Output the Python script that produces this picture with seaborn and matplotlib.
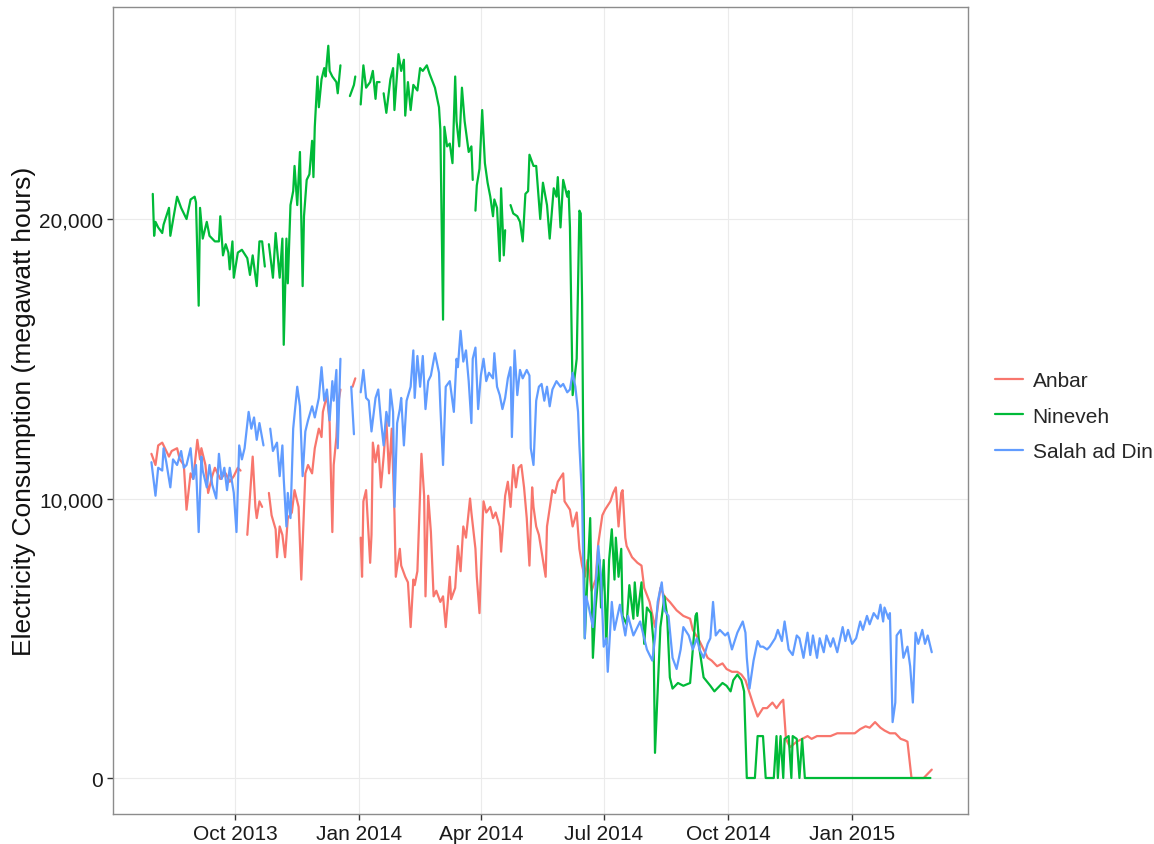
import numpy as np
import pandas as pd
import matplotlib
matplotlib.use("Agg")
import matplotlib.pyplot as plt
import matplotlib.dates as mdates
from matplotlib.ticker import FuncFormatter
import seaborn as sns

nan = np.nan

# daily electricity consumption, day offsets counted from START,
# values in thousand megawatt hours (nan = missing day, line breaks there)
START = "2013-07-30"
provinces = ["Anbar", "Nineveh", "Salah ad Din"]
colors = ["#F8766D", "#00BA38", "#619CFF"]

anbar_day = [
    1, 4, 6, 9, 11, 14, 16, 20, 22, 25,
    27, 30, 32, 35, 37, 38, 41, 43, 46, 48,
    52, 56, 59, 62, 65, 67, 69, 72, 74, 76,
    78, 79, 81, 83, 86, 88, 90, 93, 94, 96,
    98, 100, 102, 105, 107, 110, 112, 115, 117, 120,
    122, 125, 127, 128, 131, 133, 135, 136, 138, 139,
    141, 143, 150, 152, 154, 156, 157, 158, 160, 163,
    164, 165, 167, 169, 171, 173, 175, 177, 179, 181,
    182, 185, 186, 189, 191, 193, 195, 196, 198, 201,
    203, 204, 206, 208, 210, 212, 215, 217, 219, 222,
    223, 226, 228, 230, 232, 234, 237, 238, 241, 242,
    244, 246, 247, 249, 252, 254, 256, 259, 260, 263,
    265, 267, 269, 271, 273, 275, 277, 279, 281, 283,
    284, 286, 288, 290, 293, 294, 298, 300, 302, 306,
    307, 311, 313, 316, 318, 320, 322, 324, 327, 330,
    332, 335, 337, 341, 343, 345, 347, 349, 350, 352,
    353, 357, 361, 364, 366, 370, 374, 378, 381, 385,
    390, 395, 400, 402, 407, 413, 416, 420, 424, 427,
    431, 435, 438, 441, 443, 447, 450, 454, 457, 461,
    464, 467, 469, 471, 474, 479, 483, 487, 490, 494,
    499, 504, 509, 513, 519, 522, 526, 530, 533, 537,
    541, 544, 548, 552, 556, 559, 561, 564, 573, 576,
    579,
]
anbar_k = [
    11.6, 11.2, 11.9, 12.0, 11.8, 11.5, 11.7, 11.8, 11.4, 11.2,
    9.6, 10.9, 10.7, 12.1, 11.4, 11.8, 11.2, 10.2, 10.8, 11.1,
    10.7, 10.9, 10.6, 10.8, 11.1, 11.0, nan, 8.7, 10.1, 11.5,
    9.7, 9.3, 9.9, 9.7, nan, 10.2, 9.4, 8.9, 7.9, 9.0,
    8.7, 7.9, 9.3, 9.5, 10.3, 9.7, 7.1, 10.9, 11.2, 10.9,
    11.8, 12.5, 12.2, 13.1, 13.7, 12.7, 8.8, 11.2, 12.2, 13.3,
    13.9, nan, 14.0, 14.3, nan, 8.6, 7.2, 9.9, 10.3, 7.7,
    8.7, 12.0, 11.3, 11.9, 10.4, 11.5, 12.8, 10.9, 12.5, 9.5,
    7.2, 8.2, 7.6, 7.2, 7.0, 5.4, 7.1, 6.9, 7.4, 11.6,
    10.1, 6.5, 10.1, 8.8, 6.5, 6.7, 6.3, 6.5, 5.4, 7.2,
    6.4, 6.8, 8.3, 7.4, 9.0, 8.6, 10.0, 9.5, 8.2, 7.2,
    5.9, 8.8, 9.9, 9.5, 9.7, 9.3, 9.5, 9.0, 8.1, 10.1,
    10.6, 9.7, 11.2, 10.4, 11.1, 11.2, 10.4, 9.3, 7.6, 10.4,
    9.7, 9.0, 8.7, 8.1, 7.2, 9.0, 10.3, 10.2, 10.6, 10.9,
    9.9, 9.6, 9.0, 9.5, 8.2, 7.6, 7.2, 7.8, 6.7, 7.1,
    8.4, 9.4, 9.6, 9.9, 10.2, 10.4, 9.0, 10.2, 10.3, 8.6,
    8.3, 7.9, 7.7, 7.6, 6.8, 6.3, 5.4, 6.8, 6.5, 6.3,
    6.0, 5.8, 5.7, 5.3, 4.9, 4.3, 4.2, 4.0, 4.1, 3.9,
    3.8, 3.8, 3.7, 3.5, 3.2, 2.6, 2.2, 2.5, 2.5, 2.7,
    2.5, 2.7, 2.8, 1.4, 1.1, 1.3, 1.4, 1.5, 1.4, 1.5,
    1.5, 1.5, 1.6, 1.6, 1.6, 1.6, 1.75, 1.85, 1.8, 2.0,
    1.8, 1.7, 1.6, 1.6, 1.4, 1.35, 1.3, 0.0, 0.0, 0.15,
    0.3,
]

nineveh_day = [
    2, 3, 4, 6, 9, 10, 14, 15, 20, 23,
    27, 30, 33, 34, 36, 37, 39, 42, 44, 48,
    51, 52, 54, 56, 58, 59, 61, 62, 65, 68,
    72, 74, 76, 79, 81, 83, 85, 86, 88, 91,
    93, 96, 98, 99, 101, 102, 104, 106, 107, 109,
    111, 113, 114, 116, 118, 120, 121, 122, 124, 125,
    127, 129, 130, 132, 133, 135, 138, 139, 141, 143,
    148, 151, 152, 154, 156, 158, 160, 163, 165, 167,
    168, 170, 172, 173, 175, 178, 180, 181, 184, 186,
    188, 189, 191, 193, 195, 198, 200, 202, 205, 207,
    211, 214, 215, 217, 218, 220, 222, 224, 226, 227,
    229, 231, 233, 236, 238, 239, 240, 241, 242, 244,
    246, 248, 250, 252, 254, 255, 257, 259, 260, 262,
    263, 265, 267, 269, 272, 274, 276, 278, 280, 281,
    284, 286, 289, 291, 294, 296, 299, 301, 302, 304,
    306, 309, 310, 311, 313, 316, 318, 319, 320, 322,
    324, 326, 328, 330, 333, 334, 336, 338, 340, 342,
    344, 345, 347, 349, 350, 353, 355, 358, 359, 361,
    364, 366, 368, 371, 373, 374, 378, 381, 383, 385,
    387, 391, 395, 400, 404, 405, 407, 410, 415, 418,
    422, 424, 427, 430, 432, 435, 438, 440, 442, 448,
    450, 454, 456, 462, 464, 465, 467, 469, 470, 473,
    475, 476, 479, 481, 483, 485, 578,
]
nineveh_k = [
    20.9, 19.4, 19.9, 19.7, 19.5, 19.8, 20.4, 19.4, 20.8, 20.4,
    20.0, 20.7, 20.8, 20.6, 16.9, 20.4, 19.3, 19.9, 19.4, 19.2,
    19.2, 20.1, 18.7, 19.1, 18.8, 18.2, 19.2, 17.9, 18.8, 18.9,
    18.6, 18.0, 18.7, 17.6, 19.2, 19.2, 18.3, nan, 19.1, 17.9,
    19.5, 17.9, 19.3, 15.5, 19.3, 17.7, 20.5, 21.0, 21.9, 20.5,
    22.4, 17.6, 20.1, 21.4, 21.6, 22.8, 21.5, 23.3, 25.1, 24.0,
    25.0, 25.4, 25.1, 26.2, 25.3, 25.1, 24.9, 24.5, 25.5, nan,
    24.4, 24.8, 25.1, nan, 24.1, 25.5, 24.7, 24.9, 25.3, 24.3,
    24.9, 24.9, nan, 24.5, 23.8, 25.0, 25.4, 23.9, 25.9, 25.3,
    25.7, 23.7, 24.9, 23.9, 24.8, 24.6, 25.4, 25.3, 25.5, 25.2,
    24.7, 24.0, 23.2, 16.4, 23.3, 22.6, 22.7, 22.0, 25.1, 23.5,
    22.6, 24.7, 23.5, 22.4, 22.6, 21.4, nan, 20.3, 21.2, 21.8,
    23.9, 22.0, 21.3, 20.8, 20.1, 20.7, 20.4, 18.5, 21.1, 18.7,
    19.6, nan, 20.5, 20.2, 20.1, 19.9, 19.2, 20.9, 21.0, 22.3,
    21.9, 21.9, 20.0, 21.3, 20.5, 19.3, 21.1, 20.8, 21.5, 19.7,
    21.4, 20.8, 21.0, 19.7, 13.7, 15.0, 20.3, 20.2, 17.1, 5.0,
    7.2, 9.3, 4.3, 6.1, 7.8, 6.1, 7.8, 4.8, 7.8, 8.9,
    7.1, 8.6, 7.2, 8.2, 5.8, 5.5, 6.9, 5.7, 7.0, 5.8,
    7.0, 4.8, 6.1, 5.9, 4.8, 0.9, 5.4, 6.5, 5.8, 3.6,
    3.2, 3.4, 3.3, 3.4, 5.8, 5.9, 4.6, 3.6, 3.3, 3.1,
    3.3, 3.4, 3.3, 3.1, 3.5, 3.7, 3.5, 3.1, 0.0, 0.0,
    1.5, 1.5, 0.0, 0.0, 1.5, 0.0, 1.5, 0.0, 1.4, 1.5,
    0.0, 1.5, 1.4, 0.0, 1.4, 0.0, 0.0,
]

salah_day = [
    1, 4, 6, 9, 10, 12, 15, 17, 20, 23,
    25, 27, 30, 32, 34, 36, 38, 39, 42, 44,
    46, 49, 51, 53, 55, 57, 59, 62, 64, 66,
    68, 70, 73, 75, 77, 79, 81, 84, 86, 89,
    91, 94, 96, 98, 99, 101, 102, 104, 106, 109,
    111, 113, 115, 117, 120, 122, 125, 127, 129, 131,
    133, 135, 136, 138, 139, 141, 143, 149, 151, 154,
    156, 158, 160, 162, 164, 167, 169, 171, 173, 175,
    177, 178, 180, 181, 183, 185, 186, 188, 190, 193,
    195, 196, 198, 200, 202, 204, 206, 208, 211, 214,
    215, 217, 219, 222, 225, 227, 228, 230, 232, 234,
    236, 238, 239, 241, 243, 245, 247, 249, 251, 254,
    255, 257, 259, 261, 263, 265, 267, 268, 270, 272,
    274, 276, 279, 281, 282, 284, 286, 288, 290, 292,
    294, 296, 298, 301, 304, 306, 309, 311, 313, 315,
    317, 318, 320, 321, 322, 323, 325, 328, 332, 334,
    336, 338, 339, 342, 344, 348, 352, 354, 358, 363,
    368, 372, 374, 376, 379, 381, 384, 387, 390, 393,
    395, 399, 402, 405, 407, 410, 413, 415, 417, 419,
    422, 426, 428, 431, 435, 439, 441, 442, 444, 447,
    450, 452, 454, 457, 459, 463, 465, 468, 470, 473,
    476, 479, 481, 484, 487, 489, 491, 494, 496, 499,
    501, 504, 506, 509, 513, 515, 517, 520, 523, 526,
    528, 531, 533, 536, 539, 541, 543, 544, 547, 548,
    550, 552, 553, 556, 558, 561, 563, 565, 567, 569,
    572, 574, 576, 579,
]
salah_k = [
    11.3, 10.1, 11.1, 11.0, 11.8, 11.3, 10.4, 11.4, 11.2, 11.7,
    11.1, 11.2, 11.8, 10.7, 11.2, 8.8, 11.5, 11.0, 10.4, 11.2,
    10.5, 10.0, 11.6, 10.7, 11.1, 10.3, 11.1, 10.2, 8.8, 11.9,
    11.4, 11.8, 13.1, 12.5, 12.9, 12.1, 12.7, 11.9, nan, 12.5,
    11.7, 12.0, 10.8, 11.9, 10.7, 9.0, 10.2, 9.3, 12.5, 14.0,
    13.3, 10.8, 12.4, 12.8, 13.3, 12.9, 13.6, 14.7, 13.5, 13.9,
    12.8, 14.2, 13.5, 14.6, 11.8, 15.0, nan, 14.0, 12.3, nan,
    13.8, 14.6, 13.6, 13.5, 12.4, 13.6, 13.9, 12.8, 11.9, 13.1,
    12.6, 13.9, 13.1, 9.7, 12.7, 13.2, 13.6, 11.9, 13.5, 14.0,
    15.3, 13.6, 15.1, 14.0, 15.1, 13.2, 14.2, 14.4, 15.2, 14.5,
    13.3, 11.2, 14.0, 14.2, 13.1, 15.0, 14.7, 16.0, 14.9, 15.3,
    14.2, 12.7, 15.0, 15.4, 13.2, 14.4, 15.0, 14.2, 14.5, 14.3,
    15.2, 14.0, 13.7, 13.2, 13.6, 14.3, 14.7, 12.2, 15.3, 13.7,
    14.6, 14.3, 14.6, 14.4, 11.8, 11.2, 13.5, 14.0, 14.1, 13.5,
    14.0, 13.3, 13.9, 14.2, 14.0, 14.1, 13.8, 13.9, 14.5, 14.0,
    13.1, 11.9, 10.0, 7.2, 5.0, 6.5, 6.1, 5.4, 8.3, 7.2,
    4.7, 5.0, 3.8, 6.3, 5.3, 6.2, 5.1, 5.8, 5.1, 5.6,
    4.6, 4.2, 5.0, 6.3, 7.0, 6.0, 5.8, 4.3, 3.9, 4.6,
    5.4, 5.1, 4.6, 5.0, 4.6, 4.3, 4.8, 5.0, 6.3, 5.1,
    5.3, 5.1, 5.2, 4.6, 5.2, 5.6, 5.2, 4.3, 3.2, 4.2,
    4.9, 4.7, 4.7, 4.6, 4.7, 5.0, 5.3, 4.9, 5.6, 4.6,
    4.4, 5.1, 5.0, 4.3, 5.2, 4.4, 5.1, 4.3, 5.0, 4.5,
    5.1, 4.7, 5.0, 4.5, 5.4, 4.9, 5.3, 4.8, 5.0, 5.6,
    5.3, 5.8, 5.5, 5.9, 5.7, 6.2, 5.6, 6.1, 5.7, 5.9,
    2.0, 2.7, 5.1, 5.3, 4.3, 4.7, 4.0, 2.7, 5.2, 4.8,
    5.3, 4.8, 5.1, 4.5,
]

y_ticks = [0, 10000, 20000]


def to_frame(name, days, vals):
    df = pd.DataFrame({"day": days, "mwh": np.array(vals, dtype=float) * 1000})
    df["date"] = pd.Timestamp(START) + pd.to_timedelta(df["day"], unit="D")
    # every missing day starts a new line segment
    df["segment"] = df["mwh"].isna().cumsum()
    df["province"] = name
    return df.dropna(subset=["mwh"])


df = pd.concat([
    to_frame("Anbar", anbar_day, anbar_k),
    to_frame("Nineveh", nineveh_day, nineveh_k),
    to_frame("Salah ad Din", salah_day, salah_k),
], ignore_index=True)

sns.set_theme(style="white")
plt.rcParams["font.family"] = ["Liberation Sans", "DejaVu Sans"]

fig = plt.figure(figsize=(11.54, 8.45), dpi=100)
ax = fig.add_axes([0.098, 0.0355, 0.741, 0.955])

sns.lineplot(
    data=df, x="date", y="mwh",
    hue="province", hue_order=provinces,
    palette=dict(zip(provinces, colors)),
    units="segment", estimator=None,
    lw=1.6, ax=ax,
)

start = pd.Timestamp(START)
ax.set_xlim(start - pd.Timedelta(days=27.4), start + pd.Timedelta(days=606))
ax.set_ylim(-1288, 27586)
ax.xaxis.set_major_locator(mdates.MonthLocator(bymonth=[1, 4, 7, 10]))
ax.xaxis.set_major_formatter(mdates.DateFormatter("%b %Y"))
ax.set_yticks(y_ticks)
ax.yaxis.set_major_formatter(FuncFormatter(lambda v, p: f"{v:,.0f}"))

ax.grid(True, color="#EBEBEB", lw=0.8)
ax.set_axisbelow(True)
for s in ax.spines.values():
    s.set_color("#8C8C8C")
    s.set_linewidth(1.0)

ax.tick_params(bottom=True, left=True, length=4, width=1, color="#333333",
               labelsize=15, labelcolor="#1a1a1a", pad=3)
ax.set_xlabel("")
ax.set_ylabel("Electricity Consumption (megawatt hours)", fontsize=19, color="#111111")
ax.yaxis.set_label_coords(-0.09, 0.5)

sns.move_legend(ax, "center left", bbox_to_anchor=(1.0316, 0.493), title=None,
                frameon=False, fontsize=15, handlelength=1.35, handletextpad=0.45,
                labelspacing=0.8, borderaxespad=0, borderpad=0)

fig.savefig("out.png", dpi=100)
